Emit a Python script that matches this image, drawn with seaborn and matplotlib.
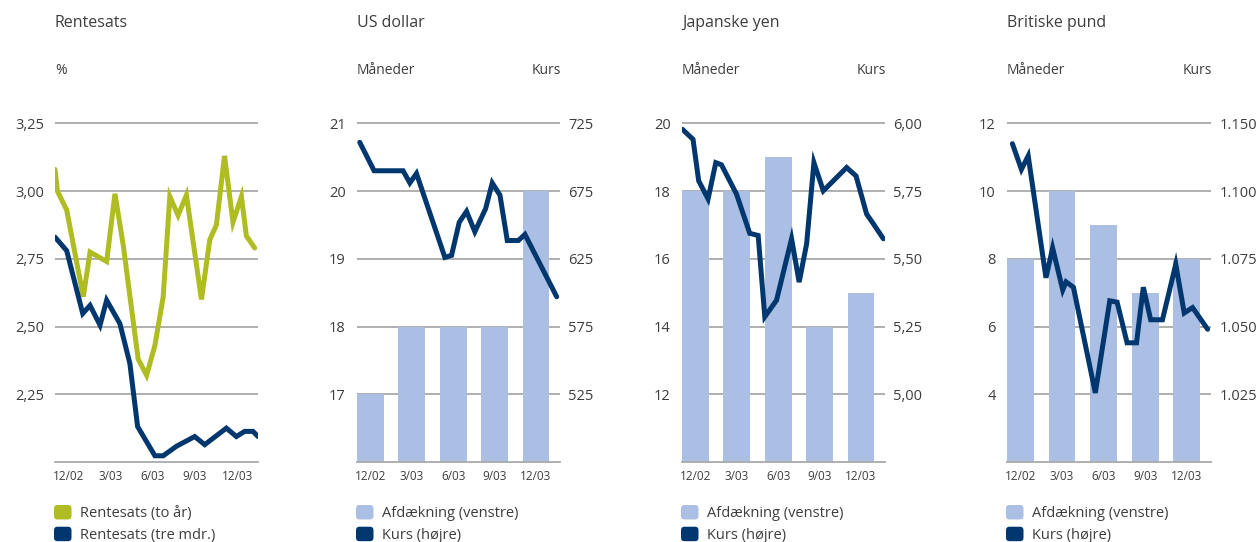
import numpy as np
import pandas as pd
import seaborn as sns
import matplotlib.pyplot as plt
from matplotlib.patches import Patch, FancyBboxPatch
from matplotlib.legend_handler import HandlerPatch

sns.set_style("white")
plt.rcParams['font.family'] = ['Open Sans', 'DejaVu Sans']

# --- data (x in months, 0 = 12/02) ---
quarters = ['12/02', '3/03', '6/03', '9/03', '12/03']

two_year_x = [-0.95, -0.78, -0.12, 1.06, 1.54, 2.72, 3.31, 3.9, 4.96, 5.56, 6.15, 6.74,
              7.21, 7.8, 8.39, 9.46, 10.05, 10.52, 11.1, 11.7, 12.3, 12.65, 13.24]
two_year_y = [3.08, 3.00, 2.93, 2.61, 2.775, 2.74, 2.99, 2.80, 2.38, 2.32, 2.43, 2.61,
              2.98, 2.91, 2.985, 2.60, 2.82, 2.875, 3.13, 2.885, 2.98, 2.835, 2.79]
three_month_x = [-0.95, -0.12, 1.02, 1.54, 2.25, 2.72, 3.66, 4.37, 4.92, 6.15, 6.74,
                 7.68, 8.98, 9.69, 11.23, 11.94, 12.53, 13.12, 13.48]
three_month_y = [2.83, 2.78, 2.548, 2.578, 2.505, 2.597, 2.511, 2.364, 2.131, 2.023, 2.023,
                 2.058, 2.094, 2.064, 2.125, 2.094, 2.113, 2.113, 2.094]
rate_ticks = [2.25, 2.50, 2.75, 3.00, 3.25]
rate_labels = ['2,25', '2,50', '2,75', '3,00', '3,25']

usd_hedge = [17, 18, 18, 18, 20]
usd_x = [-0.77, 0.27, 2.37, 2.86, 3.34, 5.4, 5.88, 6.44, 6.97, 7.57, 8.35, 8.83, 9.39,
         9.92, 10.72, 11.2, 13.5]
usd_y = [711, 690, 690, 681, 688, 626, 627.5, 652, 660, 645, 662, 681, 672,
         638.5, 638.5, 643, 597]
usd_left_ticks = [17, 18, 19, 20, 21]
usd_right_ticks = [525, 575, 625, 675, 725]
usd_right_labels = ['525', '575', '625', '675', '725']

jpy_hedge = [18, 18, 19, 14, 15]
jpy_x = [-0.94, -0.17, 0.24, 0.92, 1.48, 1.89, 2.98, 3.94, 4.55, 5.03, 5.88, 6.97, 7.52,
         8.06, 8.59, 9.27, 10.96, 11.64, 12.41, 12.9, 13.62]
jpy_y = [5.978, 5.941, 5.788, 5.721, 5.855, 5.847, 5.739, 5.594, 5.586, 5.286, 5.347,
         5.574, 5.414, 5.555, 5.855, 5.751, 5.837, 5.806, 5.665, 5.629, 5.574]
jpy_left_ticks = [12, 14, 16, 18, 20]
jpy_right_ticks = [5.00, 5.25, 5.50, 5.75, 6.00]
jpy_right_labels = ['5,00', '5,25', '5,50', '5,75', '6,00']

gbp_hedge = [8, 10, 9, 7, 8]
gbp_x = [-0.58, 0.07, 0.56, 1.84, 2.32, 3.05, 3.29, 3.82, 5.4, 6.44, 6.97, 7.69, 8.37,
         8.86, 9.39, 10.24, 11.2, 11.81, 12.41, 13.5]
gbp_y = [1117.5, 1108, 1113, 1068, 1079, 1063.5, 1066.5, 1064.5, 1025.5, 1059.5, 1059,
         1044, 1044, 1064.5, 1052.5, 1052.5, 1073, 1055, 1057, 1049]
gbp_left_ticks = [4, 6, 8, 10, 12]
gbp_right_ticks = [1025, 1050, 1075, 1100, 1125]
gbp_right_labels = ['1.025', '1.050', '1.075', '1.100', '1.150']

GREEN = '#afbd22'
NAVY = '#00376f'
BAR = '#aabfe3'
GRID = '#a9a9a9'
TXT = '#3d3d3d'
LW = 3.6

W, H = 1258, 542
fig = plt.figure(figsize=(W / 100, H / 100), dpi=100)


class RoundSquare(HandlerPatch):
    # legend key as a small rounded square
    def create_artists(self, legend, orig_handle, xdescent, ydescent, width, height,
                       fontsize, trans):
        p = FancyBboxPatch((-xdescent, -ydescent), width, height,
                           boxstyle='round,pad=0,rounding_size=2.5',
                           facecolor=orig_handle.get_facecolor(), edgecolor='none',
                           transform=trans)
        return [p]


def make_ax(x0, x1):
    ax = fig.add_axes([x0 / W, (H - 462) / H, (x1 - x0) / W, 340 / H])
    return ax


def clean(ax):
    for s in ['top', 'right', 'left']:
        ax.spines[s].set_visible(False)
    ax.spines['bottom'].set_color(GRID)
    ax.spines['bottom'].set_linewidth(1.3)
    ax.tick_params(length=0, colors=TXT)


def headers(x0, x1, title, sub_left, sub_right=None):
    fig.text(x0 / W, 1 - 23 / H, title, fontsize=11.5, color=TXT, va='center', ha='left')
    fig.text(x0 / W, 1 - 70 / H, sub_left, fontsize=10, color=TXT, va='center', ha='left')
    if sub_right:
        fig.text((x1 + 1) / W, 1 - 70 / H, sub_right, fontsize=10, color=TXT,
                 va='center', ha='right')


def legend(x0, entries):
    handles = [Patch(facecolor=c, label=l) for l, c in entries]
    fig.legend(handles=handles, loc='upper left', bbox_to_anchor=(x0 / W, 1 - 505 / H),
               frameon=False, borderpad=0, borderaxespad=0, handlelength=1.2,
               handleheight=1.15, handletextpad=0.6, labelspacing=0.38, fontsize=10.5,
               labelcolor=TXT, handler_map={Patch: RoundSquare()})


def xaxis(ax, xlim):
    ax.set_xlim(*xlim)
    ax.set_xticks(range(len(quarters)))
    ax.set_xticklabels(quarters, fontsize=8.5, color=TXT)
    ax.tick_params(axis='x', pad=6)


# --- panel 1: Rentesats ---
ax = make_ax(55, 258)
clean(ax)
ax.yaxis.grid(True, color=GRID, linewidth=1.3)
sns.lineplot(x=np.array(two_year_x) / 3, y=two_year_y, ax=ax, color=GREEN, linewidth=LW,
             estimator=None, sort=False)
sns.lineplot(x=np.array(three_month_x) / 3, y=three_month_y, ax=ax, color=NAVY,
             linewidth=LW, estimator=None, sort=False)
for l in ax.lines:
    l.set_solid_joinstyle('miter')
ax.set_ylim(2.0, 3.255)
ax.set_yticks(rate_ticks)
ax.set_yticklabels(rate_labels, fontsize=10.5)
ax.tick_params(axis='y', pad=8)
ax.set_xlabel('')
ax.set_ylabel('')
xaxis(ax, (-0.317, 4.493))
headers(55, 258, 'Rentesats', '%')
legend(54, [('Rentesats (to år)', GREEN), ('Rentesats (tre mdr.)', NAVY)])

# --- currency panels ---
panels = [
    (357, 560, 'US dollar', usd_hedge, usd_x, usd_y, (16, 21), usd_left_ticks,
     (475, 725), usd_right_ticks, usd_right_labels),
    (682, 885, 'Japanske yen', jpy_hedge, jpy_x, jpy_y, (10, 20), jpy_left_ticks,
     (4.75, 6.0), jpy_right_ticks, jpy_right_labels),
    (1007, 1211, 'Britiske pund', gbp_hedge, gbp_x, gbp_y, (2, 12), gbp_left_ticks,
     (1000, 1125), gbp_right_ticks, gbp_right_labels),
]

for x0, x1, title, hedge, lx, ly, lylim, lticks, rylim, rticks, rlabels in panels:
    ax = make_ax(x0, x1)
    clean(ax)
    ax.set_axisbelow(True)
    ax.yaxis.grid(True, color=GRID, linewidth=1.3)
    df = pd.DataFrame({'q': quarters, 'v': hedge})
    sns.barplot(data=df, x='q', y='v', ax=ax, color=BAR, saturation=1, width=0.645,
                linewidth=0, edgecolor='none')
    ax.set_ylim(lylim[0], lylim[1] + (lylim[1] - lylim[0]) * 0.004)
    ax.set_yticks(lticks)
    ax.set_yticklabels([str(t) for t in lticks], fontsize=10.5)
    ax.tick_params(axis='y', pad=8)
    ax.set_xlabel('')
    ax.set_ylabel('')

    ax2 = ax.twinx()
    for s in ax2.spines.values():
        s.set_visible(False)
    sns.lineplot(x=np.array(lx) / 3, y=ly, ax=ax2, color=NAVY, linewidth=LW,
                 estimator=None, sort=False)
    for l in ax2.lines:
        l.set_solid_joinstyle('miter')
    ax2.set_ylim(rylim[0], rylim[1] + (rylim[1] - rylim[0]) * 0.004)
    ax2.set_yticks(rticks)
    ax2.set_yticklabels(rlabels, fontsize=10.5)
    ax2.tick_params(axis='y', length=0, pad=6, colors=TXT)
    ax2.set_ylabel('')
    xaxis(ax, (-0.323, 4.58))
    headers(x0, x1, title, 'Måneder', 'Kurs')
    legend(x0 - 1, [('Afdækning (venstre)', BAR), ('Kurs (højre)', NAVY)])

fig.savefig('out.png', dpi=100)
